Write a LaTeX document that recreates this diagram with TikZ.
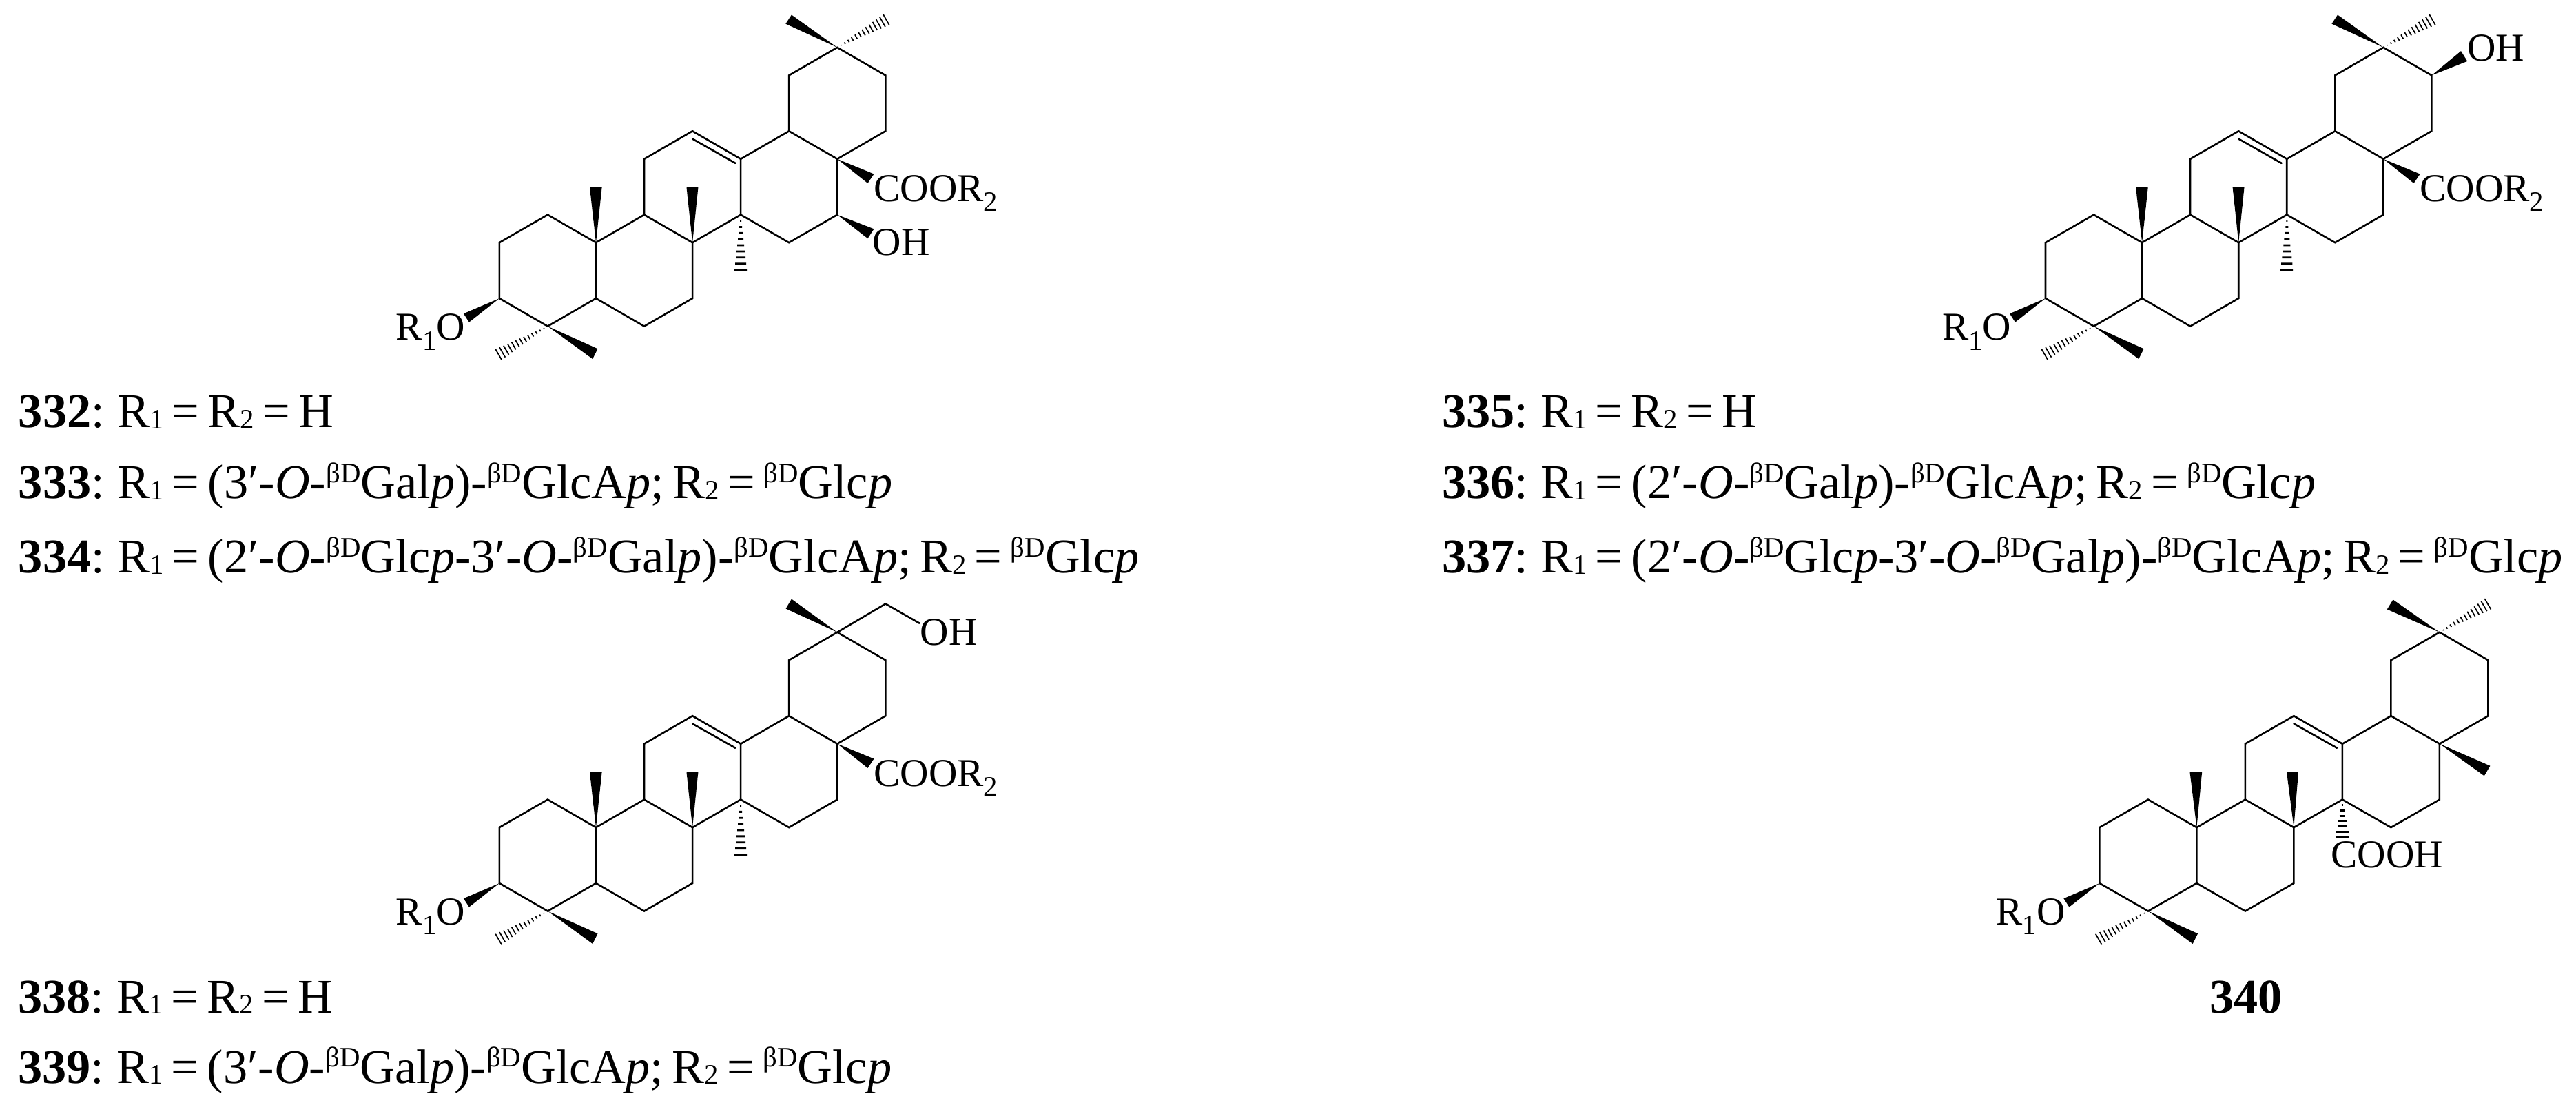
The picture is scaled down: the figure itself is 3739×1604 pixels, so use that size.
\documentclass[tikz,border=0pt]{standalone}
\usepackage{fontspec}
\setmainfont{Liberation Serif}[WordSpace=0.7]
\usetikzlibrary{calc}
\tikzset{
  bond/.style={line width=0.026cm,line join=miter,line cap=round},
  wedgefill/.style={fill=black},
  lbl/.style={anchor=base west,inner sep=0pt,outer sep=0pt,font=\fontsize{16.3pt}{18pt}\selectfont},
  capt/.style={anchor=base west,inner sep=0pt,outer sep=0pt,font=\fontsize{20pt}{24pt}\selectfont},
}
% caption helpers
\newcommand\sbs[1]{\raisebox{-0.4pt}{\fontsize{11.6pt}{12pt}\selectfont #1}}
\newcommand\bd{\raisebox{6.6pt}{\fontsize{11.6pt}{12pt}\selectfont βD}}
\newcommand\Ra{R\sbs{1}}
\newcommand\Rb{R\sbs{2}}
\newcommand\Ip{\textit{p}}
\newcommand\Io{\textit{O}}
% label subscript
\newcommand\lsb[1]{\raisebox{-4.1pt}{\fontsize{11.6pt}{12pt}\selectfont #1}}
% wedge
\newcommand\wdg[3]{\fill[wedgefill] (#1) -- (#2) -- (#3) -- cycle;}
% hashed bond: apex, end, n bars, end half-width (px), bar width (cm)
\newcommand\hsh[5]{%
  \foreach \k in {1,...,#3}{%
    \pgfmathsetmacro\hfr{\k/#3}%
    \pgfmathsetmacro\hh{\hfr*#4*0.2845}%
    \coordinate (hp) at ($(#1)!\hfr!(#2)$);%
    \draw[line width=#5] ($(hp)!\hh pt!90:(#1)$) -- ($(hp)!\hh pt!-90:(#1)$);%
  }}
% structure: prefix, x, y, x-step, extras
\newcommand\struct[5]{%
  \begin{scope}[shift={(#2,#3)}]
    \foreach \n/\i/\j in {c3/0/1,c4/1/0,c5/2/1,c10/2/3,c1/1/4,c2/0/3,c6/3/0,c7/4/1,c8/4/3,c9/3/4,
      c11/3/6,c12/4/7,c13/5/6,c14/5/4,c18/6/7,c19/6/9,c20/7/10,c21/8/9,c22/8/7,c17/7/6,c16/7/4,c15/6/3}{
      \coordinate (#1\n) at (\i*#4,-\j*40.47);
    }
    \draw[bond] (#1c3) -- (#1c4) -- (#1c5) -- (#1c10) -- (#1c1) -- (#1c2) -- cycle;
    \draw[bond] (#1c5) -- (#1c6) -- (#1c7) -- (#1c8) -- (#1c9) -- (#1c10);
    \draw[bond] (#1c9) -- (#1c11) -- (#1c12) -- (#1c13) -- (#1c14) -- (#1c8);
    \draw[bond] (#1c13) -- (#1c18) -- (#1c17) -- (#1c16) -- (#1c15) -- (#1c14);
    \draw[bond] (#1c18) -- (#1c19) -- (#1c20) -- (#1c21) -- (#1c22) -- (#1c17);
    \coordinate (#1db1) at (4*#4,-272);
    \coordinate (#1db2) at (4.89*#4,-236.7);
    \draw[bond] (#1db1) -- (#1db2);
    \wdg{#1c10}{131,-202.5}{148.8,-202.5}
    \wdg{#1c8}{271.5,-202.5}{288.6,-202.5}
    \wdg{#1c4}{142.6,32.7}{135.3,47.5}
    \coordinate (#1h4) at (-1.2,41);
    \hsh{#1c4}{#1h4}{13}{9}{0.017cm}
    \wdg{#1c3}{-52,-18.3}{-44,-5.9}
    \node[lbl] (#1ro) at (-150,20) {R\lsb{1}O};
    #5
  \end{scope}}
\begin{document}
\begin{tikzpicture}[x=0.01cm,y=-0.01cm]
\fill[white] (0,0) rectangle (3739,1604);
\useasboundingbox (0,0) rectangle (3739,1604);

% 332-334
\struct{a}{724.9}{473.6}{70.05}{%
  \wdg{ac20}{424,-452}{415.4,-439}
  \coordinate (ah20) at (561.4,-445);
  \hsh{ac20}{ah20}{13}{9}{0.017cm}
  \coordinate (ah14) at (350.2,-82);
  \hsh{ac14}{ah14}{9}{9}{0.028cm}
  \wdg{ac17}{543.6,-221}{534.5,-207.6}
  \node[lbl] (acoor) at (543.6,-181.5) {COOR\lsb{2}};
  \wdg{ac16}{543.6,-141.2}{534.5,-127.4}
  \node[lbl] (aoh) at (541.8,-102.6) {OH};
}
% 335-337
\struct{b}{2969}{473.6}{70.05}{%
  \wdg{bc20}{424,-452}{415.4,-439}
  \coordinate (bh20) at (561.4,-445);
  \hsh{bc20}{bh20}{13}{9}{0.017cm}
  \coordinate (bh14) at (350.2,-82);
  \hsh{bc14}{bh14}{9}{9}{0.028cm}
  \wdg{bc17}{543.6,-221}{534.5,-207.6}
  \node[lbl] (bcoor) at (543.6,-181.5) {COOR\lsb{2}};
  \wdg{bc21}{603,-399.5}{612.2,-384.7}
  \node[lbl] (boh) at (612.2,-384.7) {OH};
}
% 338-339
\struct{c}{724.9}{1322.5}{70.05}{%
  \wdg{cc20}{424,-452.9}{415.7,-439}
  \coordinate (cc30) at (560.4,-446);
  \coordinate (ce30) at (609.8,-417.8);
  \draw[bond] (cc20) -- (cc30) -- (ce30);
  \node[lbl] (coh) at (611,-385.7) {OH};
  \coordinate (ch14) at (350.2,-82);
  \hsh{cc14}{ch14}{9}{9}{0.028cm}
  \wdg{cc17}{543.6,-221}{534.5,-207.6}
  \node[lbl] (ccoor) at (543.6,-181.5) {COOR\lsb{2}};
}
% 340
\struct{d}{3047.4}{1322.5}{70.5}{%
  \wdg{dc20}{426,-452}{417.4,-438}
  \coordinate (dh20) at (563.5,-445.7);
  \hsh{dc20}{dh20}{13}{9}{0.017cm}
  \wdg{dc17}{567,-210.8}{558.3,-196.3}
  \coordinate (dh14) at (352.5,-107);
  \hsh{dc14}{dh14}{7}{10}{0.028cm}
  \node[lbl] (dcooh) at (336,-63) {COOH};
}

% captions
\node[capt] (t332) at (27,621) {\textbf{332}: \Ra{} = \Rb{} = H};
\node[capt] (t333) at (27,724) {\textbf{333}: \Ra{} = (3′-\Io-\bd Gal\Ip)-\bd GlcA\Ip; \Rb{} = \bd Glc\Ip};
\node[capt] (t334) at (27,832) {\textbf{334}: \Ra{} = (2′-\Io-\bd Glc\Ip-3′-\Io-\bd Gal\Ip)-\bd GlcA\Ip; \Rb{} = \bd Glc\Ip};
\node[capt] (t335) at (2093,621) {\textbf{335}: \Ra{} = \Rb{} = H};
\node[capt] (t336) at (2093,724) {\textbf{336}: \Ra{} = (2′-\Io-\bd Gal\Ip)-\bd GlcA\Ip; \Rb{} = \bd Glc\Ip};
\node[capt] (t337) at (2093,832) {\textbf{337}: \Ra{} = (2′-\Io-\bd Glc\Ip-3′-\Io-\bd Gal\Ip)-\bd GlcA\Ip; \Rb{} = \bd Glc\Ip};
\node[capt] (t338) at (26,1470) {\textbf{338}: \Ra{} = \Rb{} = H};
\node[capt] (t339) at (26,1572) {\textbf{339}: \Ra{} = (3′-\Io-\bd Gal\Ip)-\bd GlcA\Ip; \Rb{} = \bd Glc\Ip};
\node[capt,anchor=base] (t340) at (3260,1470) {\textbf{340}};
\end{tikzpicture}
\end{document}
